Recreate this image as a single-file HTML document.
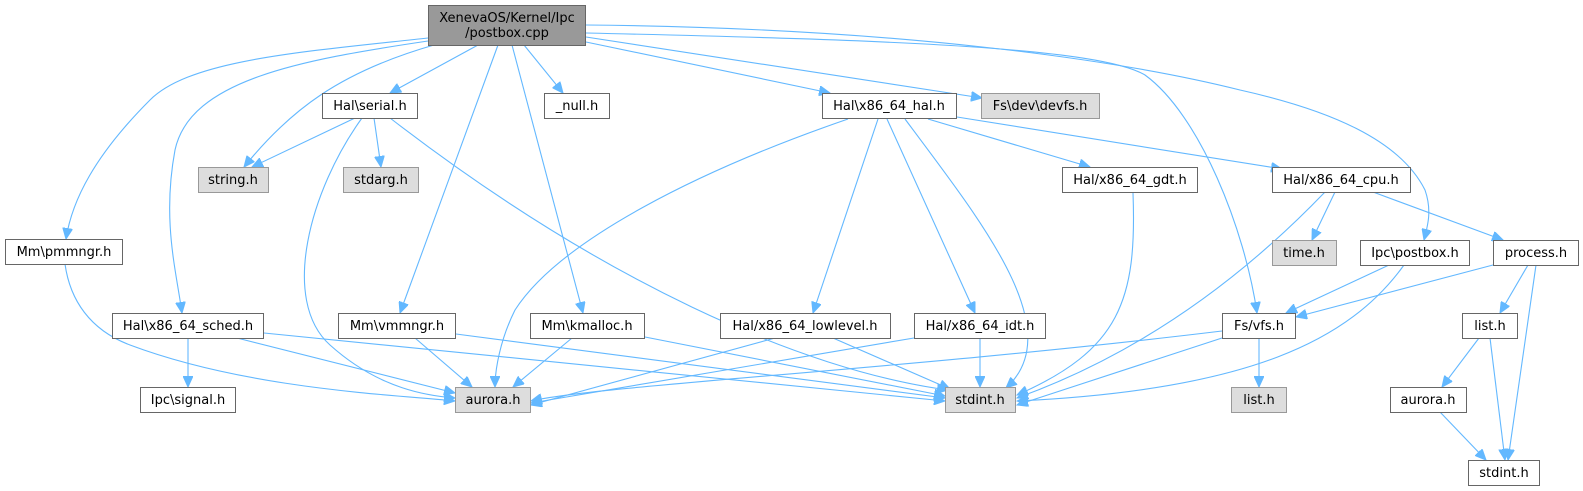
<!DOCTYPE html>
<html><head><meta charset="utf-8"><style>
html,body{margin:0;padding:0;background:#fff;}
svg{display:block;}
text{font-family:"DejaVu Sans","Liberation Sans",sans-serif;font-size:13px;fill:#000;}
</style></head><body>
<svg width="1583" height="491" viewBox="0 0 1583 491" xmlns="http://www.w3.org/2000/svg">
<defs>
<marker id="a" markerUnits="userSpaceOnUse" markerWidth="12" markerHeight="10" refX="11" refY="5" orient="auto">
<path d="M0,0 L11,5 L0,10 z" fill="#63b8ff" stroke="#63b8ff"/>
</marker>
</defs>
<g fill="none" stroke="#63b8ff" stroke-width="1.1" marker-end="url(#a)">
<path d="M428,38 C300,52 190,60 150,100 C95,155 72,200 66,239"/>
<path d="M428,41 C300,60 190,80 175,150 C162,220 176,270 182,313"/>
<path d="M434,45 C340,72 290,110 244,167"/>
<path d="M478,45 L390,93"/>
<path d="M498,45 L400,313"/>
<path d="M512,45 L583,313"/>
<path d="M524,45 L563,93"/>
<path d="M586,42 L830,93"/>
<path d="M586,37 L982,98"/>
<path d="M586,33 C900,40 1100,48 1145,75 C1200,115 1245,230 1257,313"/>
<path d="M586,25 C900,28 1120,60 1240,90 C1330,110 1400,140 1425,190 C1432,210 1428,225 1424,240"/>
<path d="M355,118 L252,167"/>
<path d="M374,118 L381,167"/>
<path d="M362,118 C310,190 280,300 330,345 C380,390 430,396 455,398"/>
<path d="M390,118 C600,280 800,370 948,390"/>
<path d="M848,119 C700,170 560,240 515,310 C500,340 495,370 495,387"/>
<path d="M878,119 L813,313"/>
<path d="M887,119 L975,313"/>
<path d="M905,119 C980,220 1070,330 1006,388"/>
<path d="M928,119 L1090,167"/>
<path d="M957,117 L1282,169"/>
<path d="M1133,193 C1137,300 1120,350 1017,395"/>
<path d="M1325,192 C1250,270 1150,350 1017,398"/>
<path d="M1335,192 L1312,240"/>
<path d="M1373,192 L1503,240"/>
<path d="M1389,265 L1286,313"/>
<path d="M1404,265 C1350,340 1250,390 1017,401"/>
<path d="M1493,265 L1296,317"/>
<path d="M1528,265 L1500,313"/>
<path d="M1536,265 L1508,460"/>
<path d="M1479,338 L1442,387"/>
<path d="M1490,338 L1505,460"/>
<path d="M1440,412 L1486,460"/>
<path d="M1259,338 L1259,387"/>
<path d="M1222,338 L1017,405"/>
<path d="M1222,331 C900,370 600,385 531,401"/>
<path d="M980,338 L980,387"/>
<path d="M914,338 L531,403"/>
<path d="M775,338 L531,405"/>
<path d="M833,338 L950,389"/>
<path d="M572,338 L513,387"/>
<path d="M645,337 L945,396"/>
<path d="M415,338 L472,387"/>
<path d="M456,334 L945,398"/>
<path d="M188,338 L188,387"/>
<path d="M237,338 L455,393"/>
<path d="M264,333 L945,401"/>
<path d="M65,264 C70,300 90,330 130,345 C250,390 400,395 455,401"/>
</g>
<g stroke-width="1">
<rect x="428.5" y="5.5" width="157" height="40" fill="#999" stroke="#666"/>
<rect x="322.5" y="93.5" width="95" height="25" fill="#fff" stroke="#666"/>
<rect x="544.5" y="93.5" width="65" height="25" fill="#fff" stroke="#666"/>
<rect x="822.5" y="93.5" width="134" height="25" fill="#fff" stroke="#666"/>
<rect x="981.5" y="93.5" width="118" height="25" fill="#ddd" stroke="#999"/>
<rect x="198.5" y="167.5" width="70" height="25" fill="#ddd" stroke="#999"/>
<rect x="343.5" y="167.5" width="75" height="25" fill="#ddd" stroke="#999"/>
<rect x="1062.5" y="167.5" width="135" height="25" fill="#fff" stroke="#666"/>
<rect x="1272.5" y="167.5" width="138" height="25" fill="#fff" stroke="#666"/>
<rect x="5.5" y="239.5" width="117" height="25" fill="#fff" stroke="#666"/>
<rect x="1272.5" y="240.5" width="64" height="25" fill="#ddd" stroke="#999"/>
<rect x="1360.5" y="240.5" width="109" height="25" fill="#fff" stroke="#666"/>
<rect x="1493.5" y="240.5" width="85" height="25" fill="#fff" stroke="#666"/>
<rect x="112.5" y="313.5" width="151" height="25" fill="#fff" stroke="#666"/>
<rect x="338.5" y="313.5" width="117" height="25" fill="#fff" stroke="#666"/>
<rect x="530.5" y="313.5" width="114" height="25" fill="#fff" stroke="#666"/>
<rect x="720.5" y="313.5" width="170" height="25" fill="#fff" stroke="#666"/>
<rect x="914.5" y="313.5" width="131" height="25" fill="#fff" stroke="#666"/>
<rect x="1222.5" y="313.5" width="73" height="25" fill="#fff" stroke="#666"/>
<rect x="1462.5" y="313.5" width="55" height="25" fill="#fff" stroke="#666"/>
<rect x="140.5" y="387.5" width="95" height="25" fill="#fff" stroke="#666"/>
<rect x="455.5" y="387.5" width="75" height="25" fill="#ddd" stroke="#999"/>
<rect x="945.5" y="387.5" width="70" height="25" fill="#ddd" stroke="#999"/>
<rect x="1231.5" y="387.5" width="55" height="25" fill="#ddd" stroke="#999"/>
<rect x="1390.5" y="387.5" width="76" height="25" fill="#fff" stroke="#666"/>
<rect x="1468.5" y="460.5" width="71" height="25" fill="#fff" stroke="#666"/>
</g>
<g text-anchor="middle">
<text x="507" y="22">XenevaOS/Kernel/Ipc</text>
<text x="507" y="37">/postbox.cpp</text>
<text x="370" y="110">Hal\serial.h</text>
<text x="577" y="110">_null.h</text>
<text x="889" y="110">Hal\x86_64_hal.h</text>
<text x="1040" y="110">Fs\dev\devfs.h</text>
<text x="233" y="184">string.h</text>
<text x="381" y="184">stdarg.h</text>
<text x="1130" y="184">Hal/x86_64_gdt.h</text>
<text x="1341" y="184">Hal/x86_64_cpu.h</text>
<text x="64" y="256">Mm\pmmngr.h</text>
<text x="1304" y="257">time.h</text>
<text x="1415" y="257">Ipc\postbox.h</text>
<text x="1536" y="257">process.h</text>
<text x="188" y="330">Hal\x86_64_sched.h</text>
<text x="397" y="330">Mm\vmmngr.h</text>
<text x="587" y="330">Mm\kmalloc.h</text>
<text x="805" y="330">Hal/x86_64_lowlevel.h</text>
<text x="980" y="330">Hal/x86_64_idt.h</text>
<text x="1259" y="330">Fs/vfs.h</text>
<text x="1490" y="330">list.h</text>
<text x="188" y="404">Ipc\signal.h</text>
<text x="493" y="404">aurora.h</text>
<text x="980" y="404">stdint.h</text>
<text x="1259" y="404">list.h</text>
<text x="1428" y="404">aurora.h</text>
<text x="1504" y="477">stdint.h</text>
</g>
</svg>
</body></html>
